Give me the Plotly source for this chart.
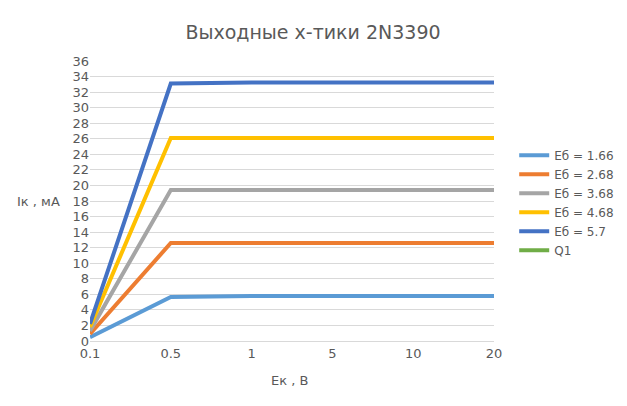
import plotly.graph_objects as go

x_labels = ["0.1", "0.5", "1", "5", "10", "20"]
series_names = ["Еб = 1.66", "Еб = 2.68", "Еб = 3.68", "Еб = 4.68", "Еб = 5.7"]
ib_166 = [0.5, 5.65, 5.8, 5.8, 5.8, 5.8]
ib_268 = [0.9, 12.6, 12.6, 12.6, 12.6, 12.6]
ib_368 = [1.3, 19.4, 19.4, 19.4, 19.4, 19.4]
ib_468 = [1.8, 26.1, 26.1, 26.1, 26.1, 26.1]
ib_57 = [2.2, 33.1, 33.25, 33.25, 33.25, 33.25]
colors = ["#5b9bd5", "#ed7d31", "#a5a5a5", "#ffc000", "#4472c4"]
y_ticks = list(range(0, 37, 2))

fig = go.Figure()
for name, vals, c in zip(series_names, [ib_166, ib_268, ib_368, ib_468, ib_57], colors):
    fig.add_trace(go.Scatter(x=x_labels, y=vals, mode="lines", name=name,
                             line=dict(color=c, width=4)))
fig.add_trace(go.Scatter(x=[None], y=[None], mode="lines", name="Q1",
                         line=dict(color="#70ad47", width=4)))

font_c = "#595959"
H = 406
fig.update_layout(
    width=627, height=H,
    margin=dict(l=82, r=141, t=53, b=73),
    paper_bgcolor="white", plot_bgcolor="white",
    font=dict(family="DejaVu Sans", color=font_c, size=13),
    title=dict(text="Выходные х-тики 2N3390", x=(313 - 8) / 627, xanchor="center",
               y=1 - 24 / H, yanchor="middle", font=dict(size=19, color=font_c)),
    xaxis=dict(type="category", range=[0, 5], showgrid=False, zeroline=False,
               showline=True, linecolor="#d9d9d9", linewidth=1,
               tickfont=dict(size=13, color=font_c), ticks=""),
    yaxis=dict(range=[0, 36], tickvals=y_ticks, showgrid=True, gridcolor="#d9d9d9",
               gridwidth=1, zeroline=False, showline=False,
               tickfont=dict(size=13, color=font_c), ticks=""),
    legend=dict(x=1.05, y=0.494, xanchor="left", yanchor="middle",
                font=dict(size=12, color=font_c), tracegroupgap=0),
    showlegend=True,
    annotations=[
        dict(text="Iк , мА", xref="paper", yref="paper", x=(30 - 82) / 404, y=0.5,
             xanchor="center", yanchor="middle", showarrow=False,
             font=dict(size=13, color=font_c)),
        dict(text="Ек , В", xref="paper", yref="paper", x=0.495, y=-(372 - 333) / 280,
             xanchor="center", yanchor="middle", showarrow=False,
             font=dict(size=13, color=font_c)),
    ],
)
fig.write_html("out.html")
